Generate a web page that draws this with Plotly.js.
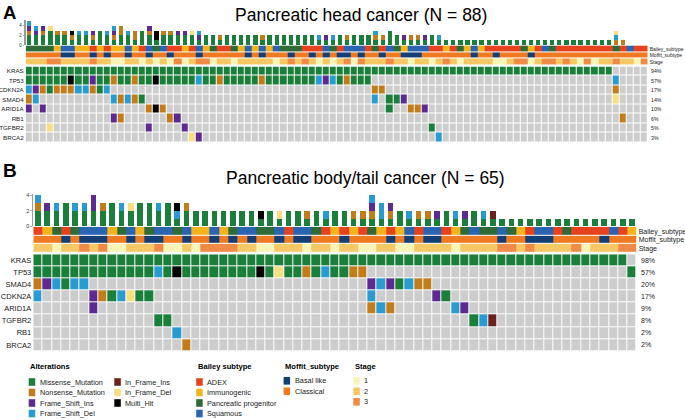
<!DOCTYPE html>
<html><head><meta charset="utf-8">
<script src="https://cdn.plot.ly/plotly-3.0.1.min.js"></script>
<style>html,body{margin:0;padding:0;background:#fff}#chart{width:685px;height:420px}</style>
</head><body><div id="chart"></div>
<script>
// ===================== DATA =====================
// alteration codes: M Missense, N Nonsense, I Frame_Shift_Ins, D Frame_Shift_Del,
// R In_Frame_Ins, E In_Frame_Del, H Multi_Hit, . no alteration
const altCodes  = ["M","N","I","D","R","E","H"];
const altNames  = ["Missense_Mutation","Nonsense_Mutation","Frame_Shift_Ins","Frame_Shift_Del","In_Frame_Ins","In_Frame_Del","Multi_Hit"];
const altColors = ["#1b7f3b","#c17d1c","#5c2a91","#2a9bd1","#6d211c","#f7de82","#000000"];
const noneColor = "#cdcdcd";

// Panel A: pancreatic head (88 samples)
const genesA  = ["KRAS","TP53","CDKN2A","SMAD4","ARID1A","RB1","TGFBR2","BRCA2"];
const A_KRAS   = "MMMMMMMMMM MMMMMMMMMM MMMMMMMMMM MMMMMMMMMM MMMMMMMMMM MMMMMMMMMM MMMMMMMMMM MMMMMMMMMM MMM.....";
const A_TP53   = "MMMMMMHMMI MMNMMNMMHM MMMMDMMNMM MMMNMMMMMM MDIDMNMMM. .......... .......... .......... ...D....";
const A_CDKN2A = "DINMNNNDDN MD........ .......... .......... .........N N......... .......... .......... ...N....";
const A_SMAD4  = "ND........ ..DNDNM... .......... .......... .........D .MMI...... .......... .......... ...E....";
const A_ARID1A = "I.I....... .......NHN .......... .......... .......... .M..NNI... .......... .......... ........";
const A_RB1    = ".......... ..IN...... NI........ .......... .......... .......... .......... .......... ....N...";
const A_TGFBR2 = "...E...... .......I.. ..I....... .......... .......... .......M.. .......... .......... ........";
const A_BRCA2  = ".......... .......... ...EI..... .......... .......... ........D. .......... .......... ........";
// Bailey: A ADEX, I Immunogenic, P Pancreatic progenitor, S Squamous ; Moffit: B Basal like, C Classical ; Stage 1-3
const A_Bailey = "IIIIPSSPPA PAPPSPASIS AAPASPIAAI PSPSPSIIIA AASIASSSAI ASIPSSSAAP AIPSPAAAAA IPASIAAAAA AAAIASAA";
const A_Moffit = "CCCCCBBCCB CBCCBCCBCC BCCCBCCCCC CBCBCCCBCC BCBCBBCBCC BCCBBBCCCC CCCBCCBCCC CBCCCCCCCC CCCCCCCC";
const A_Stage  = "2223322223 2211221212 1312331221 2222212323 2121231322 2322122123 2122221123 3123323213 12232213";

// Panel B: pancreatic body/tail (65 samples)
const genesB  = ["KRAS","TP53","SMAD4","CDKN2A","ARID1A","TGFBR2","RB1","BRCA2"];
const B_KRAS   = "MMMMMMMMMM MMMMMMMMMM MMMMMMMMMM MMMMMMMMMM MMMMMMMMMM MMMMMMMMMM MMMM.";
const B_TP53   = "MMMMMMMMMM MMMDMHMMMM MMMMHMEMMN MDMMNN.... .......... .......... ....M";
const B_SMAD4  = "NIDMDD.... .......... .......... ......IDIM DNN....... .......... .....";
const B_CDKN2A = "D.....INMD EMM....... .......... ......D... ...IM..... .......... .....";
const B_ARID1A = "......I... .......... .......... ......NDN. .....DI... .......... .....";
const B_TGFBR2 = ".......... ...MM..... .......... .......... .......MDR .......... .....";
const B_RB1    = ".......... .....D.... .......... .......... .......... .......... .....";
const B_BRCA2  = ".......... ......N... .......... .......... .......... .......... .....";
const B_Bailey = "APIAISSSPI SPISSISPPS PISSIISASS IAPAPAIPAP SASSAPISII SIPASSAIAA AASAP";
const B_Moffit = "CCCBCBBBCC BCBBCCBCCB CBCBCCBCBB CCCBCCCCBC BCBBCCCCCC BCCBBBCCCC CBCCC";
const B_Stage  = "2212232311 2223112133 3322112221 2212211221 1222212222 3323222231 22233";

const annLabels = ["Bailey_subtype","Moffit_subtype","Stage"];
const baileyNames  = ["ADEX","Immunogenic","Pancreatic progenitor","Squamous"];
const baileyColors = ["#e8411d","#f5b31c","#2f6b36","#2c64b4"];
const moffitNames  = ["Basal like","Classical"];
const moffitColors = ["#133f76","#ef7a21"];
const stageNames   = ["1","2","3"];
const stageColors  = ["#f8f3b6","#f5c765","#f08b47"];
const titleA = "Pancreatic head cancer (N = 88)";
const titleB = "Pancreatic body/tail cancer (N = 65)";

// ===================== BUILD =====================
const clean = s => s.replace(/ /g, "").split("");
const annColors = baileyColors.concat(moffitColors, stageColors);
function discreteScale(cols) {
  const n = cols.length, cs = [];
  cols.forEach((c, k) => { cs.push([k / n, c]); cs.push([(k + 1) / n, c]); });
  return cs;
}
function buildPanel(rowsRaw, bailey, moffit, stage, xa, yBar, yAnn, yGrid) {
  const rows = rowsRaw.map(clean);
  const nS = rows[0].length;
  const xs = [...Array(nS).keys()];
  const traces = [];
  altCodes.forEach((c, k) => {
    const ys = xs.map(i => rows.reduce((a, r) => a + (r[i] === c ? 1 : 0), 0));
    traces.push({type: 'bar', x: xs, y: ys, xaxis: xa, yaxis: yBar, width: 0.6,
      marker: {color: altColors[k], line: {width: 0}}, showlegend: false, hoverinfo: 'skip'});
  });
  const bz = clean(bailey).map(v => "APIS".indexOf(v));
  const mz = clean(moffit).map(v => 4 + "BC".indexOf(v));
  const sz = clean(stage).map(v => 5 + Number(v));
  traces.push({type: 'heatmap', x: xs, y: [0, 1, 2], z: [bz, mz, sz], xaxis: xa, yaxis: yAnn,
    colorscale: discreteScale(annColors), zmin: -0.5, zmax: 8.5, showscale: false, xgap: 0, ygap: 1, hoverinfo: 'skip'});
  const gz = rows.map(r => r.map(v => v === '.' ? 0 : altCodes.indexOf(v) + 1));
  traces.push({type: 'heatmap', x: xs, y: rows.map((r, i) => i), z: gz, xaxis: xa, yaxis: yGrid,
    colorscale: discreteScale([noneColor].concat(altColors)), zmin: -0.5, zmax: 7.5, showscale: false,
    xgap: 1, ygap: 1, hoverinfo: 'skip'});
  const pct = rows.map(r => Math.round(100 * r.filter(v => v !== '.').length / nS) + "%");
  return {traces, pct, nS};
}
const PA = buildPanel([A_KRAS,A_TP53,A_CDKN2A,A_SMAD4,A_ARID1A,A_RB1,A_TGFBR2,A_BRCA2], A_Bailey, A_Moffit, A_Stage, 'x', 'y', 'y2', 'y3');
const PB = buildPanel([B_KRAS,B_TP53,B_SMAD4,B_CDKN2A,B_ARID1A,B_TGFBR2,B_RB1,B_BRCA2], B_Bailey, B_Moffit, B_Stage, 'x2', 'y4', 'y5', 'y6');

const W = 685, H = 420;
const px = X => X / W, py = Y => 1 - Y / H;
const F = "Liberation Sans, Arial, Helvetica, sans-serif";
const TXT = '#1a1a1a';

function barAxis(dom, rng, fs) {
  return {domain: dom, range: rng, anchor: 'x', tickvals: [0, 2, 4], showgrid: false, zeroline: false,
    showline: true, linecolor: '#9a9a9a', linewidth: 1.5, ticks: 'outside', ticklen: 1.5, tickwidth: 0.8,
    tickcolor: '#9a9a9a', tickfont: {size: fs, color: '#333', family: F}, fixedrange: true};
}
function annAxis(dom, anchor, fs) {
  return {domain: dom, range: [2.5, -0.5], anchor: anchor, side: 'right', tickvals: [0, 1, 2], ticktext: annLabels,
    showgrid: false, zeroline: false, showline: false, ticks: '', ticklabelstandoff: 1,
    tickfont: {size: fs, color: TXT, family: F}, fixedrange: true};
}
function gridAxis(dom, anchor, genes, fs) {
  return {domain: dom, range: [7.5, -0.5], anchor: anchor, tickvals: genes.map((g, i) => i), ticktext: genes,
    showgrid: false, zeroline: false, showline: false, ticks: '', ticklabelstandoff: 1,
    tickfont: {size: fs, color: TXT, family: F}, fixedrange: true};
}

const layout = {
  width: W, height: H, margin: {l: 0, r: 0, t: 0, b: 0}, paper_bgcolor: '#fff', plot_bgcolor: 'rgba(0,0,0,0)',
  barmode: 'stack', bargap: 0, showlegend: false, font: {family: F, color: TXT},
  xaxis:  {domain: [px(25.7), px(647.7)], range: [-0.5, PA.nS - 0.5], visible: false, fixedrange: true},
  xaxis2: {domain: [px(33.3), px(636.7)], range: [-0.5, PB.nS - 0.5], visible: false, fixedrange: true},
  yaxis:  barAxis([py(45), py(19.9)], [0, 5.2], 4.5),
  yaxis2: annAxis([py(65.5), py(45.4)], 'x', 5),
  yaxis3: gridAxis([py(142.3), py(66.5)], 'x', genesA, 6.2),
  yaxis4: Object.assign(barAxis([py(226.4), py(194.2)], [0, 4.15], 5.5), {anchor: 'x2'}),
  yaxis5: annAxis([py(252.8), py(226.8)], 'x2', 7),
  yaxis6: gridAxis([py(351), py(254.3)], 'x2', genesB, 7.5),
  annotations: [], shapes: []
};
const ann = layout.annotations, shp = layout.shapes;
// panel letters and titles
ann.push({text: '<b>A</b>', xref: 'paper', yref: 'paper', x: px(1), y: py(0), xanchor: 'left', yanchor: 'top', showarrow: false, font: {size: 18.5, color: '#000', family: F}});
ann.push({text: '<b>B</b>', xref: 'paper', yref: 'paper', x: px(1), y: py(170), xanchor: 'left', yanchor: 'middle', showarrow: false, font: {size: 19, color: '#000', family: F}});
ann.push({text: titleA, xref: 'paper', yref: 'paper', x: px(361), y: py(15), xanchor: 'center', yanchor: 'middle', showarrow: false, font: {size: 17.5, color: '#000', family: F}});
ann.push({text: titleB, xref: 'paper', yref: 'paper', x: px(366), y: py(178), xanchor: 'center', yanchor: 'middle', showarrow: false, font: {size: 17.5, color: '#000', family: F}});
// percentages
PA.pct.forEach((t, i) => ann.push({text: t, xref: 'paper', yref: 'y3', x: px(649), y: i, xanchor: 'left', yanchor: 'middle', showarrow: false, font: {size: 5.2, color: TXT, family: F}}));
PB.pct.forEach((t, i) => ann.push({text: t, xref: 'paper', yref: 'y6', x: px(638.5), y: i, xanchor: 'left', yanchor: 'middle', showarrow: false, font: {size: 7, color: TXT, family: F}}));

// legend blocks
function legendBlock(title, names, colors, X, Ytitle, Yrows, perCol, colDX) {
  ann.push({text: '<b>' + title + '</b>', xref: 'paper', yref: 'paper', x: px(X - 0.5), y: py(Ytitle), xanchor: 'left', yanchor: 'middle', showarrow: false, font: {size: 7.6, color: '#000', family: F}});
  names.forEach((n, k) => {
    const col = Math.floor(k / perCol), row = k % perCol;
    const x0 = X + col * colDX, yc = Yrows[row];
    shp.push({type: 'rect', xref: 'paper', yref: 'paper', x0: px(x0), x1: px(x0 + 6.5), y0: py(yc + 3.8), y1: py(yc - 3.8), fillcolor: colors[k], line: {width: 0}});
    ann.push({text: n, xref: 'paper', yref: 'paper', x: px(x0 + 9), y: py(yc), xanchor: 'left', yanchor: 'middle', showarrow: false, font: {size: 7.3, color: TXT, family: F}});
  });
}
legendBlock('Alterations', altNames, altColors, 28.7, 366.7, [382, 392.5, 403, 413.5], 4, 85.6);
legendBlock('Bailey subtype', baileyNames, baileyColors, 196.2, 366.7, [382, 392.5, 403, 413.5], 4, 0);
legendBlock('Moffit_subtype', moffitNames, moffitColors, 283.6, 366.2, [380.8, 391.3], 4, 0);
legendBlock('Stage', stageNames, stageColors, 353.3, 366.2, [380.8, 391.3, 401.8], 4, 0);

Plotly.newPlot('chart', PA.traces.concat(PB.traces), layout, {displayModeBar: false, staticPlot: true});
</script></body></html>
